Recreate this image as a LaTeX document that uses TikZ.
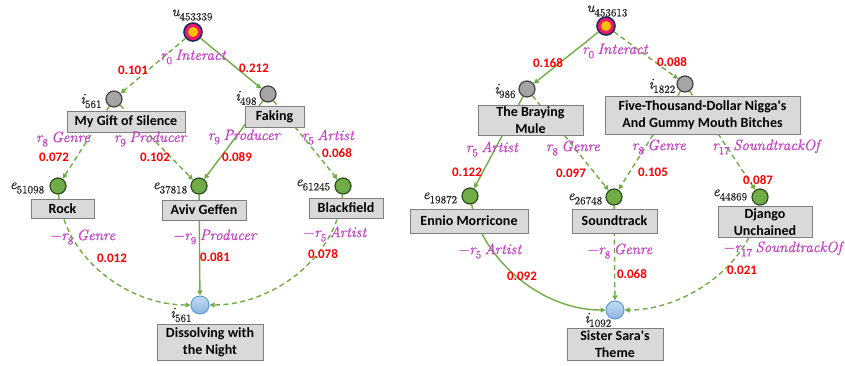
\documentclass[tikz,border=0pt]{standalone}
\usepackage{fontspec}
\setmainfont{Carlito}[Ligatures=TeXOff]
\newfontfamily\lmr{Latin Modern Roman}[FakeBold=0.7]
\usetikzlibrary{arrows.meta,backgrounds}
\definecolor{egreen}{HTML}{70AD47}
\definecolor{cgreenb}{HTML}{2E4A1E}
\definecolor{boxfill}{HTML}{D9D9D9}
\definecolor{boxline}{HTML}{7F7F7F}
\definecolor{greyfill}{HTML}{A5A5A5}
\definecolor{greyline}{HTML}{404040}
\definecolor{bluetop}{HTML}{C5DCF2}
\definecolor{bluebot}{HTML}{8DB4E2}
\definecolor{blueline}{HTML}{5B9BD5}
\definecolor{userpink}{HTML}{F0186A}
\definecolor{usernavy}{HTML}{1F2A5C}
\definecolor{useryel}{HTML}{FFC000}
\definecolor{relmag}{HTML}{C83CC8}
\definecolor{labgray}{HTML}{262626}
\newcommand\sbx[1]{\raisebox{-0.28em}{\fontsize{11}{11}\selectfont\upshape #1}}
\newcommand\gp{\hspace{3.5pt}}
\newcommand\mn{{\upshape −}}
\tikzset{
  boxn/.style={draw=boxline, fill=boxfill, line width=1pt, align=center, inner sep=0pt,
    font=\fontsize{14}{17}\selectfont\bfseries},
  greyc/.style={circle, draw=greyline, fill=greyfill, minimum size=16pt, inner sep=0pt, line width=1.2pt},
  greenc/.style={circle, draw=cgreenb, fill=egreen, minimum size=16pt, inner sep=0pt, line width=1.2pt},
  bluec/.style={circle, draw=blueline, top color=bluetop, bottom color=bluebot, minimum size=18pt, inner sep=0pt, line width=1pt},
  userc/.style={circle, draw=usernavy, fill=userpink, minimum size=18pt, inner sep=0pt, line width=1.6pt},
  userin/.style={circle, fill=useryel, minimum size=10pt, inner sep=0pt},
  rel/.style={text=relmag, inner sep=0pt, font=\fontsize{15}{17}\selectfont\lmr\itshape},
  wt/.style={text=red, inner sep=0pt, font=\fontsize{13}{15}\selectfont\bfseries},
  lab/.style={text=labgray, inner sep=0pt, font=\fontsize{15}{17}\selectfont\lmr\itshape},
  soledge/.style={draw=egreen, line width=1.4pt, -{Triangle[length=5pt,width=5pt]}},
  dashedge/.style={soledge, dash pattern=on 5pt off 3.5pt},
}
\begin{document}
\begin{tikzpicture}[x=1pt,y=-1pt]
\useasboundingbox (0,0) rectangle (845,365);
% ---------- left tree ----------
\node[userc] (u1) at (193,32) {};
\node[userin] (u1in) at (193,32) {};
\node[lab] (u1l) at (192,15) {u\sbx{453339}};
\node[greyc] (a1) at (114,99) {};
\node[lab] (a1l) at (91,101) {i\sbx{561}};
\node[greyc] (a2) at (268,94) {};
\node[lab] (a2l) at (246,98) {i\sbx{498}};
\node[greenc] (b1) at (58,186) {};
\node[lab] (b1l) at (27,188) {e\sbx{51098}};
\node[greenc] (b2) at (199,186) {};
\node[lab] (b2l) at (170,188) {e\sbx{37818}};
\node[greenc] (b3) at (343,186) {};
\node[lab] (b3l) at (313,185) {e\sbx{61245}};
\node[bluec] (c1) at (200,305) {};
\node[lab] (c1l) at (181,315) {i\sbx{561}};

\node[boxn, minimum width=118pt, minimum height=21pt] (ba1) at (126,122) {My Gift of Silence};
\node[boxn, minimum width=59pt, minimum height=21pt] (ba2) at (274.5,116.5) {Faking};
\node[boxn, minimum width=63pt, minimum height=19pt] (bb1) at (62.5,208.5) {Rock};
\node[boxn, minimum width=84pt, minimum height=20pt] (bb2) at (204,210) {Aviv Geffen};
\node[boxn, minimum width=74pt, minimum height=20pt] (bb3) at (346,208) {Blackfield};
\node[boxn, minimum width=106pt, minimum height=36pt] (bc1) at (210,342) {Dissolving with\\the Night};

\begin{pgfonlayer}{background}
\draw[dashedge] (u1) -- (a1);
\draw[soledge] (u1) -- (a2);
\draw[dashedge] (a1) -- (b1);
\draw[dashedge] (a1) -- (b2);
\draw[soledge] (a2) -- (b2);
\draw[dashedge] (a2) -- (b3);
\draw[dashedge] (b1) .. controls +(6,72) and +(-72,0) .. (c1);
\draw[soledge] (b2) -- (c1);
\draw[dashedge] (b3) .. controls +(-6,72) and +(72,0) .. (c1);
\end{pgfonlayer}

\node[rel] (r01) at (193,57) {r\sbx{0}\gp Interact};
\node[rel] (r02) at (63,139) {r\sbx{8}\gp Genre};
\node[rel] (r03) at (150,139) {r\sbx{9}\gp Producer};
\node[rel] (r04) at (244,137) {r\sbx{9}\gp Producer};
\node[rel] (r05) at (328,137) {r\sbx{5}\gp Artist};
\node[rel] (r06) at (83,237) {\mn r\sbx{8}\gp Genre};
\node[rel] (r07) at (215,237) {\mn r\sbx{9}\gp Producer};
\node[rel] (r08) at (335,234) {\mn r\sbx{5}\gp Artist};

\node[wt] (w01) at (133,70) {0.101};
\node[wt] (w02) at (254,68) {0.212};
\node[wt] (w03) at (54,157) {0.072};
\node[wt] (w04) at (155,157) {0.102};
\node[wt] (w05) at (237,157) {0.089};
\node[wt] (w06) at (337,153) {0.068};
\node[wt] (w07) at (112,258) {0.012};
\node[wt] (w08) at (215,257) {0.081};
\node[wt] (w09) at (323,254) {0.078};

% ---------- right tree ----------
\node[userc] (u2) at (606,26) {};
\node[userin] (u2in) at (606,26) {};
\node[lab] (u2l) at (607,11) {u\sbx{453613}};
\node[greyc] (d1) at (527,89) {};
\node[lab] (d1l) at (505,91) {i\sbx{986}};
\node[greyc] (d2) at (685,84) {};
\node[lab] (d2l) at (662,86) {i\sbx{1822}};
\node[greenc] (f1) at (470,196) {};
\node[lab] (f1l) at (440,198) {e\sbx{19872}};
\node[greenc] (f2) at (614,197) {};
\node[lab] (f2l) at (585,199) {e\sbx{26748}};
\node[greenc] (f3) at (760,197) {};
\node[lab] (f3l) at (730,195) {e\sbx{44869}};
\node[bluec] (g1) at (615,310) {};
\node[lab] (g1l) at (598,320) {i\sbx{1092}};

\node[boxn, minimum width=105pt, minimum height=30pt] (bd1) at (530.5,120) {The Braying\\Mule};
\node[boxn, minimum width=195pt, minimum height=38pt] (bd2) at (702.5,115) {Five-Thousand-Dollar Nigga's\\And Gummy Mouth Bitches};
\node[boxn, minimum width=118pt, minimum height=24pt] (bf1) at (469,221) {Ennio Morricone};
\node[boxn, minimum width=85pt, minimum height=24pt] (bf2) at (614.5,221) {Soundtrack};
\node[boxn, minimum width=94pt, minimum height=31pt] (bf3) at (765,222) {Django\\Unchained};
\node[boxn, minimum width=96pt, minimum height=32pt] (bg1) at (615,344) {Sister Sara's\\Theme};

\begin{pgfonlayer}{background}
\draw[soledge] (u2) -- (d1);
\draw[dashedge] (u2) -- (d2);
\draw[soledge] (d1) -- (f1);
\draw[dashedge] (d1) -- (f2);
\draw[dashedge] (d2) -- (f2);
\draw[dashedge] (d2) -- (f3);
\draw[soledge] (f1) .. controls +(12,62) and +(-75,0) .. (g1);
\draw[dashedge] (f2) -- (g1);
\draw[dashedge] (f3) .. controls +(-8,66) and +(72,0) .. (g1);
\end{pgfonlayer}

\node[rel] (r11) at (615,51) {r\sbx{0}\gp Interact};
\node[rel] (r12) at (492,149) {r\sbx{5}\gp Artist};
\node[rel] (r13) at (573,148) {r\sbx{8}\gp Genre};
\node[rel] (r14) at (659,147) {r\sbx{8}\gp Genre};
\node[rel] (r15) at (766,147) {r\sbx{17}\gp SoundtrackOf};
\node[rel] (r16) at (490,251) {\mn r\sbx{5}\gp Artist};
\node[rel] (r17) at (620,251) {\mn r\sbx{8}\gp Genre};
\node[rel] (r18) at (783,249) {\mn r\sbx{17}\gp SoundtrackOf};

\node[wt] (w11) at (548,63) {0.168};
\node[wt] (w12) at (672,62) {0.088};
\node[wt] (w13) at (467,172) {0.122};
\node[wt] (w14) at (571,173) {0.097};
\node[wt] (w15) at (653,172) {0.105};
\node[wt] (w16) at (758,180) {0.087};
\node[wt] (w17) at (522,276) {0.092};
\node[wt] (w18) at (632,274) {0.068};
\node[wt] (w19) at (742,270) {0.021};
\end{tikzpicture}
\end{document}
